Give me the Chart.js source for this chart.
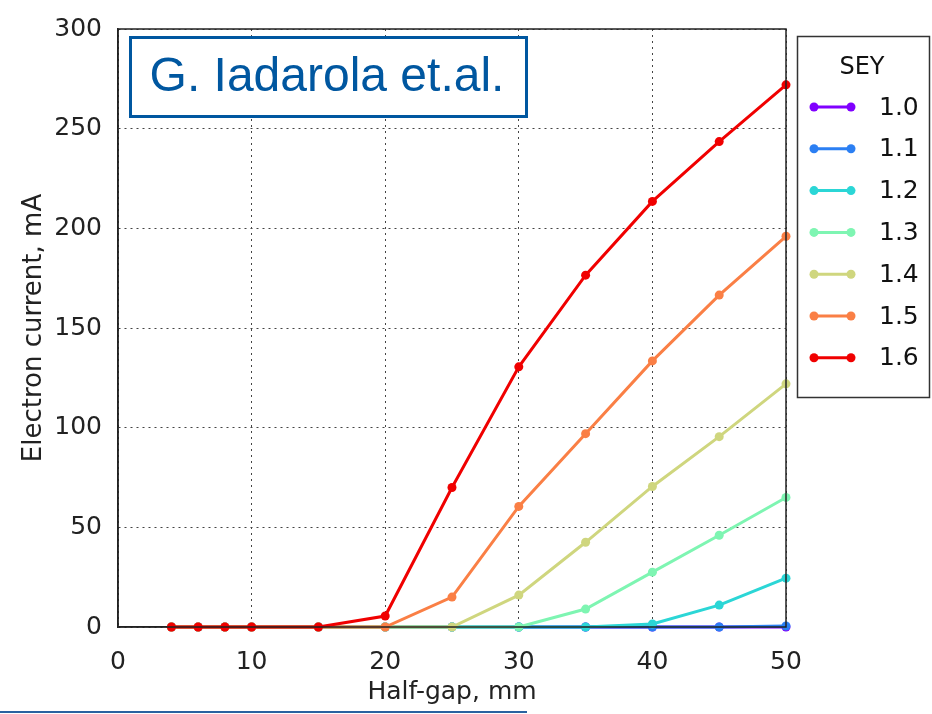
<!DOCTYPE html>
<html>
<head>
<meta charset="utf-8">
<script src="https://cdn.jsdelivr.net/npm/chart.js@4/dist/chart.umd.min.js"></script>
<style>
  body { margin: 0; background: #fff; }
  #wrap { position: relative; width: 932px; height: 714px; }
  #bar { position: absolute; left: 0; top: 711px; width: 527px; height: 2px; background: #2a62a0; }
</style>
</head>
<body>
<div id="wrap">
  <canvas id="myChart" width="932" height="714"></canvas>
  <div id="bar"></div>
</div>
<script>
// half-gap values (mm)
const halfGap = [4, 6, 8, 10, 15, 20, 25, 30, 35, 40, 45, 50];

// electron current (mA) for each SEY
const sey10 = [0, 0, 0, 0, 0, 0, 0, 0, 0, 0, 0, 0];
const sey11 = [0, 0, 0, 0, 0, 0, 0, 0, 0, 0, 0, 0.5];
const sey12 = [0, 0, 0, 0, 0, 0, 0, 0, 0, 1.5, 11, 24.5];
const sey13 = [0, 0, 0, 0, 0, 0, 0, 0, 9, 27.5, 46, 65];
const sey14 = [0, 0, 0, 0, 0, 0, 0, 16, 42.5, 70.5, 95.5, 122];
const sey15 = [0, 0, 0, 0, 0, 0, 15, 60.5, 97, 133.5, 166.5, 196];
const sey16 = [0, 0, 0, 0, 0, 5.5, 70, 130.5, 176.5, 213.5, 243.5, 272];

const seyLabels = ['1.0', '1.1', '1.2', '1.3', '1.4', '1.5', '1.6'];
const seyColors = ['#8000ff', '#2b7ff3', '#2bd6d6', '#7ef5b2', '#cfd67e', '#fa7f45', '#f00000'];
const seySeries = [sey10, sey11, sey12, sey13, sey14, sey15, sey16];

const xTicks = [0, 10, 20, 30, 40, 50];
const yTicks = [0, 50, 100, 150, 200, 250, 300];

const font = 'DejaVu Sans';

const datasets = seySeries.map(function (vals, i) {
    return {
        label: seyLabels[i],
        data: vals.map((v, k) => ({ x: halfGap[k], y: v })),
        borderColor: seyColors[i],
        backgroundColor: seyColors[i],
        borderWidth: 3,
        pointRadius: 4.5,
        pointHoverRadius: 4.5,
        pointBorderWidth: 0,
        clip: false,
        order: seySeries.length - i
    };
});

// frame, legend box and author box
const extras = {
    id: 'extras',
    afterDraw(chart) {
        const ctx = chart.ctx;
        const a = chart.chartArea;
        ctx.save();
        ctx.strokeStyle = '#222';
        ctx.lineWidth = 1.5;
        ctx.strokeRect(a.left, a.top, a.right - a.left, a.bottom - a.top);

        // legend
        ctx.strokeStyle = '#333';
        ctx.lineWidth = 1.5;
        ctx.strokeRect(797.5, 36.5, 132, 361);
        ctx.fillStyle = '#111';
        ctx.font = '24px "' + font + '"';
        ctx.textAlign = 'center';
        ctx.textBaseline = 'middle';
        ctx.fillText('SEY', 862, 68);
        ctx.textAlign = 'left';
        ctx.font = '25px "' + font + '"';
        seyLabels.forEach(function (lab, i) {
            const y = 107 + i * 41.8;
            ctx.strokeStyle = seyColors[i];
            ctx.fillStyle = seyColors[i];
            ctx.lineWidth = 3;
            ctx.beginPath();
            ctx.moveTo(814, y);
            ctx.lineTo(851, y);
            ctx.stroke();
            [814, 851].forEach(function (px) {
                ctx.beginPath();
                ctx.arc(px, y, 4.5, 0, Math.PI * 2);
                ctx.fill();
            });
            ctx.fillStyle = '#111';
            ctx.fillText(lab, 879, y + 1);
        });

        // author box
        ctx.fillStyle = '#fff';
        ctx.fillRect(130, 37, 397, 80);
        ctx.strokeStyle = '#0057a0';
        ctx.lineWidth = 3;
        ctx.strokeRect(130.5, 37.5, 396, 79);
        ctx.fillStyle = '#0057a0';
        ctx.font = '48px "Liberation Sans"';
        ctx.textAlign = 'center';
        ctx.fillText('G. Iadarola et.al.', 327, 78);
        ctx.restore();
    }
};

const config = {
    type: 'line',
    data: { datasets: datasets },
    options: {
        responsive: false,
        animation: false,
        layout: { padding: { top: 29, right: 146, left: 0, bottom: 0 } },
        plugins: {
            legend: { display: false },
            tooltip: { enabled: false }
        },
        scales: {
            x: {
                type: 'linear',
                min: 0,
                max: 50,
                afterBuildTicks: s => { s.ticks = xTicks.map(v => ({ value: v })); },
                afterFit: s => { s.height = 87; },
                grid: { color: '#444', lineWidth: 1, drawTicks: false },
                border: { display: true, color: '#222', width: 1.5, dash: [2, 4] },
                ticks: { color: '#222', padding: 20, maxRotation: 0, font: { family: font, size: 25 } },
                title: {
                    display: true,
                    text: 'Half-gap, mm',
                    color: '#222',
                    padding: { top: 0, bottom: 7 },
                    font: { family: font, size: 25 }
                }
            },
            y: {
                min: 0,
                max: 300,
                afterBuildTicks: s => { s.ticks = yTicks.map(v => ({ value: v })); },
                afterFit: s => { s.width = 118; },
                grid: { color: '#444', lineWidth: 1, drawTicks: false },
                border: { display: true, color: '#222', width: 1.5, dash: [2, 4] },
                ticks: { color: '#222', padding: 16, font: { family: font, size: 25, lineHeight: 1 } },
                title: {
                    display: true,
                    text: 'Electron current, mA',
                    color: '#222',
                    padding: { top: 19, bottom: 0 },
                    font: { family: font, size: 26 }
                }
            }
        }
    },
    plugins: [extras]
};

var myChart = new Chart(document.getElementById('myChart'), config);
</script>
</body>
</html>
